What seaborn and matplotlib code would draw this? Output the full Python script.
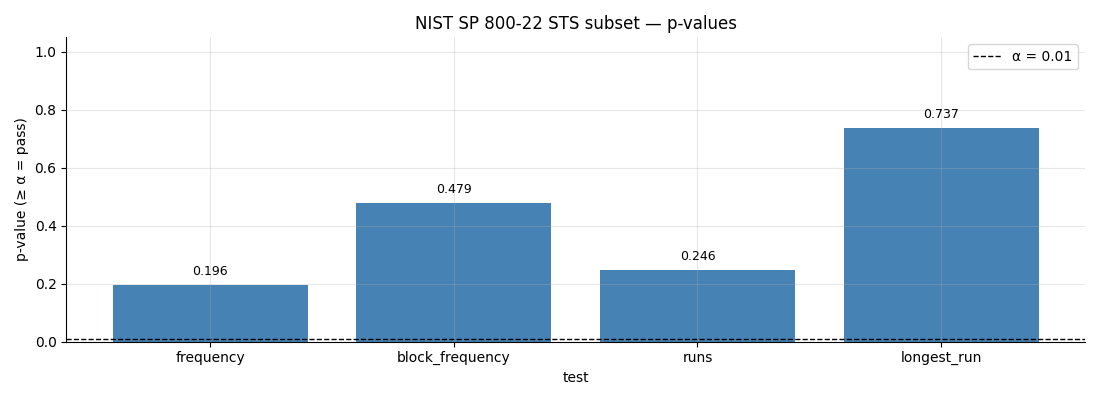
import matplotlib
matplotlib.use("Agg")
import matplotlib.pyplot as plt
import seaborn as sns
import pandas as pd

tests = ["frequency", "block_frequency", "runs", "longest_run"]
p_values = [0.196, 0.479, 0.246, 0.737]
alpha = 0.01

df = pd.DataFrame({"test": tests, "p": p_values})

fig, ax = plt.subplots(figsize=(11, 4), dpi=100)
sns.barplot(data=df, x="test", y="p", color="steelblue", saturation=1, width=0.8, ax=ax)

ax.axhline(alpha, color="black", linestyle="--", linewidth=1, label=f"α = {alpha}")

for i, v in enumerate(p_values):
    ax.annotate(f"{v:.3f}", (i, v), xytext=(0, 5), textcoords="offset points",
                ha="center", va="bottom", fontsize=9)

# matplotlib-style 5% margins instead of seaborn's tight categorical limits
ax.set_xlim(-0.59, len(tests) - 1 + 0.59)
ax.set_ylim(0, 1.05)
ax.grid(True, alpha=0.3, zorder=5)
ax.set_axisbelow(False)
ax.spines["top"].set_visible(False)
ax.spines["right"].set_visible(False)
ax.set_title("NIST SP 800-22 STS subset — p-values")
ax.set_xlabel("test")
ax.set_ylabel("p-value (≥ α = pass)")
ax.legend(loc="upper right")

fig.tight_layout()
fig.savefig("out.png")
